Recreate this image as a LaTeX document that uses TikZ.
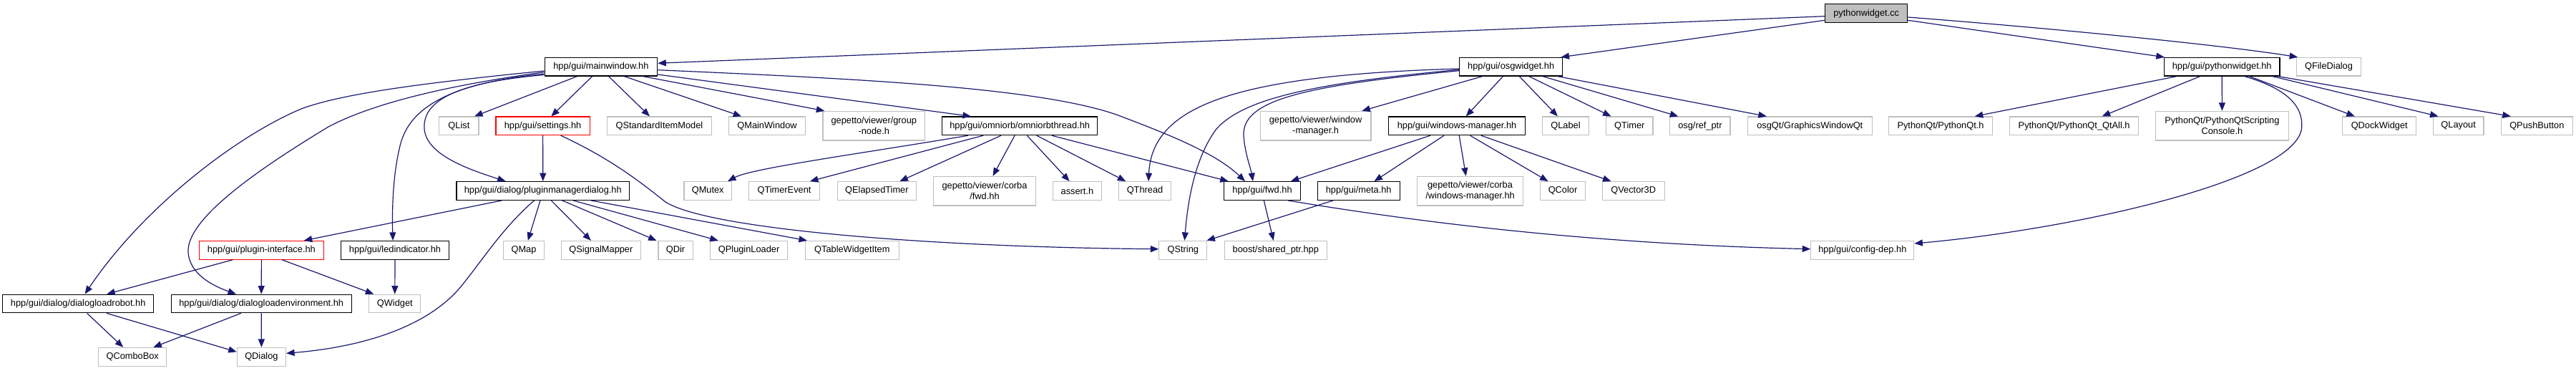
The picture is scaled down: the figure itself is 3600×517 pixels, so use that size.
\documentclass[tikz,border=0pt]{standalone}
\usepackage{fontspec}
\setmainfont{Liberation Sans}
\usetikzlibrary{arrows.meta}
\definecolor{edgec}{HTML}{191970}
\definecolor{grayb}{HTML}{BFBFBF}
\tikzset{
  box/.style={draw, line width=1.2pt, inner sep=0pt, minimum height=25.6pt,
    font=\fontsize{12.8}{14.7}\selectfont, align=center, fill=white},
  doc/.style={box, draw=black},
  ext/.style={box, draw=grayb},
  trunc/.style={box, draw=red},
  two/.style={minimum height=40.6pt},
  edge/.style={draw=edgec, line width=1.2pt, -{Triangle[length=11.5pt,width=9pt]}}
}
\begin{document}
\begin{tikzpicture}[x=1pt, y=-1pt]
\useasboundingbox (0,0) rectangle (3600,517);
% row 0
\node[box, draw=black, fill=grayb, minimum width=114.8pt, minimum height=26pt] (pwcc) at (2608.2,18.7) {pythonwidget.cc};
% row 1
\node[doc, minimum width=157.6pt] (mw) at (839.9,93.2) {hpp/gui/mainwindow.hh};
\node[doc, minimum width=144.3pt] (osg) at (2111.7,93.2) {hpp/gui/osgwidget.hh};
\node[doc, minimum width=161.5pt] (pwhh) at (3105.2,93.2) {hpp/gui/pythonwidget.hh};
\node[ext, minimum width=89.5pt] (qfd) at (3254.5,93.2) {QFileDialog};
% row 2
\node[ext, minimum width=55.1pt] (qlist) at (641.4,175.8) {QList};
\node[trunc, minimum width=131.2pt] (settings) at (758.6,175.8) {hpp/gui/settings.hh};
\node[ext, minimum width=145.4pt] (qsim) at (921.4,175.8) {QStandardItemModel};
\node[ext, minimum width=106.8pt] (qmw) at (1072,175.8) {QMainWindow};
\node[ext, two, minimum width=142.7pt] (groupnode) at (1221.3,175.7) {gepetto/viewer/group\\-node.h};
\node[doc, minimum width=217pt] (omni) at (1425.2,175.8) {hpp/gui/omniorb/omniorbthread.hh};
\node[ext, two, minimum width=154.6pt] (vwm) at (1838.6,175.7) {gepetto/viewer/window\\-manager.h};
\node[doc, minimum width=190.6pt] (wm) at (2036.1,175.8) {hpp/gui/windows-manager.hh};
\node[ext, minimum width=64.3pt] (qlabel) at (2188,175.8) {QLabel};
\node[ext, minimum width=65.4pt] (qtimer) at (2277.3,175.8) {QTimer};
\node[ext, minimum width=84.2pt] (refptr) at (2375.9,175.8) {osg/ref\_ptr};
\node[ext, minimum width=173.7pt] (gwqt) at (2529.3,175.8) {osgQt/GraphicsWindowQt};
\node[ext, minimum width=144.3pt] (pyqt) at (2712,175.8) {PythonQt/PythonQt.h};
\node[ext, minimum width=179.8pt] (pyqtall) at (2898.6,175.8) {PythonQt/PythonQt\_QtAll.h};
\node[ext, two, minimum width=185.6pt] (console) at (3105.4,175.7) {PythonQt/PythonQtScripting\\Console.h};
\node[ext, minimum width=103.3pt] (qdock) at (3325.2,175.8) {QDockWidget};
\node[ext, minimum width=70.8pt] (qlayout) at (3435.6,175.8) {QLayout};
\node[ext, minimum width=100.2pt] (qpush) at (3545.3,175.8) {QPushButton};
% row 3
\node[doc, minimum width=241.8pt] (pmd) at (758.8,266.5) {hpp/gui/dialog/pluginmanagerdialog.hh};
\node[ext, minimum width=66.6pt] (qmutex) at (989.2,266.5) {QMutex};
\node[ext, minimum width=98.7pt] (qtev) at (1096,266.5) {QTimerEvent};
\node[ext, minimum width=110.5pt] (qet) at (1225.4,266.5) {QElapsedTimer};
\node[ext, two, minimum width=142.4pt] (cfwd) at (1376,266.7) {gepetto/viewer/corba\\/fwd.hh};
\node[ext, minimum width=68.1pt] (asserth) at (1505.4,266.5) {assert.h};
\node[ext, minimum width=72.3pt] (qthread) at (1600,266.5) {QThread};
\node[doc, minimum width=106.4pt] (fwd) at (1764,266.5) {hpp/gui/fwd.hh};
\node[doc, minimum width=114.8pt] (meta) at (1898.7,266.5) {hpp/gui/meta.hh};
\node[ext, two, minimum width=148.5pt] (cwm) at (2054.5,266.7) {gepetto/viewer/corba\\/windows-manager.hh};
\node[ext, minimum width=62.4pt] (qcolor) at (2184,266.5) {QColor};
\node[ext, minimum width=86.8pt] (qv3d) at (2282.7,266.5) {QVector3D};
% row 4
\node[trunc, minimum width=173.7pt] (pi) at (365.4,349.3) {hpp/gui/plugin-interface.hh};
\node[doc, minimum width=151.2pt] (led) at (552,349.3) {hpp/gui/ledindicator.hh};
\node[ext, minimum width=57.4pt] (qmap) at (732,349.3) {QMap};
\node[ext, minimum width=111pt] (qsm) at (839.9,349.3) {QSignalMapper};
\node[ext, minimum width=48.2pt] (qdir) at (944,349.3) {QDir};
\node[ext, minimum width=107.9pt] (qpl) at (1046.6,349.3) {QPluginLoader};
\node[ext, minimum width=130.8pt] (qtwi) at (1190.8,349.3) {QTableWidgetItem};
\node[ext, minimum width=66.9pt] (qstring) at (1653.3,349.3) {QString};
\node[ext, minimum width=143.1pt] (boost) at (1782.8,349.3) {boost/shared\_ptr.hpp};
\node[ext, minimum width=143.9pt] (cdep) at (2602.8,349.3) {hpp/gui/config-dep.hh};
% row 5
\node[doc, minimum width=210.9pt] (dlr) at (109.2,424) {hpp/gui/dialog/dialogloadrobot.hh};
\node[doc, minimum width=252.2pt] (dle) at (365.2,424) {hpp/gui/dialog/dialogloadenvironment.hh};
\node[ext, minimum width=72pt] (qwidget) at (551.8,424) {QWidget};
% row 6
\node[ext, minimum width=94.9pt] (qcombo) at (185.2,498.3) {QComboBox};
\node[ext, minimum width=68.1pt] (qdialog) at (365.4,498.3) {QDialog};

% pythonwidget.cc
\draw[edge] ([yshift=-4pt]pwcc.west) -- ([yshift=4.9pt]mw.east);
\draw[edge] ([yshift=-9.6pt]pwcc.west) -- ([xshift=-3pt]osg.north east);
\draw[edge] ([yshift=-5.3pt]pwcc.east) .. controls (2850,38) and (3100,62) .. ([xshift=2pt]qfd.north west);
\draw[edge] ([yshift=-9.6pt]pwcc.east) -- ([xshift=1pt]pwhh.north west);
% mainwindow
\draw[edge] ([xshift=-33.3pt]mw.south) -- ([xshift=21.7pt]qlist.north);
\draw[edge] ([xshift=-12.2pt]mw.south) -- ([xshift=11.7pt]settings.north);
\draw[edge] ([xshift=10.7pt]mw.south) -- ([xshift=-13.4pt]qsim.north);
\draw[edge] ([xshift=32.5pt]mw.south) -- ([xshift=-35.8pt]qmw.north);
\draw[edge] ([xshift=58.6pt]mw.south) -- ([xshift=3pt]groupnode.north west);
\draw[edge] ([yshift=-10.8pt]mw.east) -- ([xshift=-68.3pt]omni.north);
\draw[edge] ([yshift=-4.5pt]mw.east) .. controls (1200,110) and (1450,122) .. (1560,160) .. controls (1640,190) and (1700,215) .. ([xshift=-24pt]fwd.north);
\draw[edge] ([yshift=-5.8pt]mw.west) .. controls (600,115) and (480,130) .. (421,152) .. controls (330,190) and (200,290) .. ([xshift=9.4pt]dlr.north);
\draw[edge] ([yshift=-7.5pt]mw.west) .. controls (620,120) and (520,145) .. (459,177) .. controls (380,225) and (263,300) .. (263,350) .. controls (263,383) and (300,400) .. ([xshift=-35.2pt]dle.north);
\draw[edge] ([yshift=-9.8pt]mw.west) .. controls (640,115) and (575,145) .. (560,200) .. controls (548,245) and (548,300) .. ([xshift=-2.9pt]led.north);
\draw[edge] ([yshift=-11.3pt]mw.west) .. controls (640,115) and (590,140) .. (593,180) .. controls (596,215) and (650,235) .. ([xshift=-52.1pt]pmd.north);
% settings
\draw[edge] (settings.south) -- (pmd.north);
\draw[edge] ([xshift=25.1pt]settings.south) .. controls (850,220) and (890,250) .. (930,282) .. controls (990,320) and (1300,345) .. ([yshift=1.6pt]qstring.west);
% pluginmanagerdialog
\draw[edge] ([xshift=-57.4pt]pmd.south) -- ([xshift=59.3pt]pi.north);
\draw[edge] ([xshift=-12.2pt]pmd.south) .. controls (700,320) and (670,370) .. (640,405) .. controls (590,460) and (500,485) .. ([yshift=5pt]qdialog.east);
\draw[edge] ([xshift=-3.8pt]pmd.south) -- ([xshift=5.8pt]qmap.north);
\draw[edge] ([xshift=11.5pt]pmd.south) -- ([xshift=-14.1pt]qsm.north);
\draw[edge] ([xshift=26.8pt]pmd.south) -- ([xshift=-26.4pt]qdir.north);
\draw[edge] ([xshift=42.1pt]pmd.south) -- ([xshift=-42.9pt]qpl.north);
\draw[edge] ([xshift=67pt]pmd.south) -- ([xshift=-62.8pt]qtwi.north);
% omniorbthread
\draw[edge] ([xshift=-72.2pt]omni.south) .. controls (1200,215) and (1050,235) .. ([xshift=27.8pt]qmutex.north);
\draw[edge] ([xshift=-51.1pt]omni.south) -- ([xshift=35.9pt]qtev.north);
\draw[edge] ([xshift=-26.2pt]omni.south) -- ([xshift=32pt]qet.north);
\draw[edge] ([xshift=-7.1pt]omni.south) -- ([xshift=11.5pt]cfwd.north);
\draw[edge] ([xshift=10.1pt]omni.south) -- ([xshift=-10.8pt]asserth.north);
\draw[edge] ([xshift=23.5pt]omni.south) -- ([xshift=-26.7pt]qthread.north);
\draw[edge] ([xshift=44.6pt]omni.south) -- ([xshift=-47.3pt]fwd.north);
% osgwidget
\draw[edge] ([yshift=-2.8pt]osg.west) .. controls (1720,105) and (1610,150) .. ([xshift=5pt]qthread.north);
\draw[edge] ([yshift=-4.1pt]osg.west) .. controls (1850,115) and (1740,135) .. (1700,180) .. controls (1670,220) and (1660,280) .. ([xshift=2.1pt]qstring.north);
\draw[edge] ([yshift=-5.5pt]osg.west) .. controls (1820,120) and (1735,140) .. (1738,190) .. controls (1740,215) and (1748,235) .. ([xshift=-13pt]fwd.north);
\draw[edge] ([xshift=-40pt]osg.south) -- ([xshift=64.7pt]vwm.north);
\draw[edge] ([xshift=-11.3pt]osg.south) -- ([xshift=12.6pt]wm.north);
\draw[edge] ([xshift=11.6pt]osg.south) -- ([xshift=-11.1pt]qlabel.north);
\draw[edge] ([xshift=25pt]osg.south) -- ([xshift=-25.8pt]qtimer.north);
\draw[edge] ([xshift=44.2pt]osg.south) -- ([xshift=-30.6pt]refptr.north);
\draw[edge] ([xshift=65.2pt]osg.south) -- ([xshift=-60.4pt]gwqt.north);
% windows-manager
\draw[edge] ([xshift=-37.1pt]wm.south) -- ([xshift=39.8pt]fwd.north);
\draw[edge] ([xshift=-18pt]wm.south) -- ([xshift=21.8pt]meta.north);
\draw[edge] ([xshift=3.1pt]wm.south) -- ([xshift=-5.8pt]cwm.north);
\draw[edge] ([xshift=18.4pt]wm.south) -- ([xshift=-20.5pt]qcolor.north);
\draw[edge] ([xshift=33.7pt]wm.south) -- ([xshift=-31.2pt]qv3d.north);
% meta, fwd
\draw[edge] ([xshift=-35.6pt]meta.south) -- ([xshift=-1pt]qstring.north east);
\draw[edge] ([xshift=2.3pt]fwd.south) -- ([xshift=-3.1pt]boost.north);
\draw[edge] ([xshift=36pt]fwd.south) .. controls (1950,305) and (2200,340) .. ([yshift=1.6pt]cdep.west);
% pythonwidget.hh
\draw[edge] ([xshift=-63.1pt]pwhh.south) -- ([xshift=47.7pt]pyqt.north);
\draw[edge] ([xshift=-30.6pt]pwhh.south) -- ([xshift=39pt]pyqtall.north);
\draw[edge] (pwhh.south) -- (console.north);
\draw[edge] ([xshift=31.5pt]pwhh.south) .. controls (3200,125) and (3218,150) .. (3216.7,177) .. controls (3214,250) and (2900,320) .. ([yshift=9.3pt]cdep.east);
\draw[edge] ([xshift=38.3pt]pwhh.south) -- ([xshift=-34.4pt]qdock.north);
\draw[edge] ([xshift=70.8pt]pwhh.south) -- ([xshift=-28.1pt]qlayout.north);
\draw[edge] ([xshift=78.5pt]pwhh.south) -- ([xshift=-36.4pt]qpush.north);
% plugin-interface, ledindicator, dialogs
\draw[edge] ([xshift=-40.1pt]pi.south) -- ([xshift=40pt]dlr.north);
\draw[edge] (pi.south) -- (dle.north);
\draw[edge] ([xshift=28.7pt]pi.south) -- ([xshift=-29.5pt]qwidget.north);
\draw[edge] (led.south) -- (qwidget.north);
\draw[edge] ([xshift=12.5pt]dlr.south) -- ([xshift=-13pt]qcombo.north);
\draw[edge] ([xshift=40pt]dlr.south) -- ([yshift=7pt]qdialog.west);
\draw[edge] ([xshift=-28.5pt]dle.south) -- ([xshift=29.1pt]qcombo.north);
\draw[edge] (dle.south) -- (qdialog.north);
\end{tikzpicture}
\end{document}
